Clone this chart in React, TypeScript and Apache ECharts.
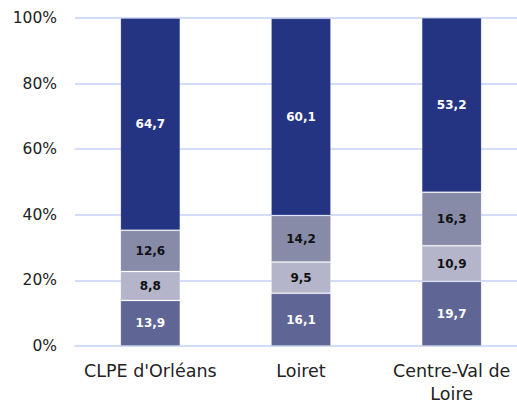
import React, { useEffect, useRef } from "react";
import * as echarts from "echarts";

const categories = ["CLPE d'Orléans", "Loiret", "Centre-Val de\nLoire"];
const s1 = [13.9, 16.1, 19.7];
const s2 = [8.8, 9.5, 10.9];
const s3 = [12.6, 14.2, 16.3];
const s4 = [64.7, 60.1, 53.2];
const yTicks = [0, 20, 40, 60, 80, 100];

const FONT = "DejaVu Sans";

export default function App() {
  const ref = useRef<HTMLDivElement>(null);
  useEffect(() => {
    if (!ref.current) return;
    const chart = echarts.init(ref.current, null, { renderer: "svg" });
    const mk = (name: string, data: number[], color: string, labelColor: string) => ({
      name,
      type: "bar",
      stack: "total",
      data,
      barWidth: 60,
      itemStyle: { color, borderColor: "rgba(255,255,255,0.2)", borderWidth: 1 },
      label: {
        show: true,
        position: "inside",
        formatter: (p: any) => String(p.value).replace(".", ","),
        color: labelColor,
        fontFamily: FONT,
        fontWeight: "bold",
        fontSize: 12,
      },
    });
    chart.setOption({
      animation: false,
      grid: { left: 75, top: 18, right: 3, bottom: 54, containLabel: false },
      xAxis: {
        type: "category",
        data: categories,
        axisLine: { show: true, lineStyle: { color: "#d3dcf8", width: 2 } },
        axisTick: { show: false },
        axisLabel: {
          color: "#222",
          fontFamily: FONT,
          fontSize: 17.5,
          lineHeight: 23,
          margin: 13,
          interval: 0,
        },
      },
      yAxis: {
        type: "value",
        min: yTicks[0],
        max: yTicks[yTicks.length - 1],
        interval: 20,
        axisLine: { show: false },
        axisTick: { show: false },
        splitLine: { lineStyle: { color: "#d3dcf8", width: 2 } },
        axisLabel: {
          color: "#222",
          fontFamily: FONT,
          fontSize: 15.5,
          margin: 18,
          formatter: (v: number) => v + "%",
        },
      },
      series: [
        mk("s1", s1, "#5f6594", "#ffffff"),
        mk("s2", s2, "#b4b5cb", "#111111"),
        mk("s3", s3, "#878ba8", "#111111"),
        mk("s4", s4, "#243482", "#ffffff"),
      ],
    });
    return () => chart.dispose();
  }, []);
  return (
    <div style={{ width: 517, height: 405, position: "absolute", left: 0, top: 0, overflow: "hidden" }}>
      <div ref={ref} style={{ width: 530, height: 405 }} />
    </div>
  );
}
